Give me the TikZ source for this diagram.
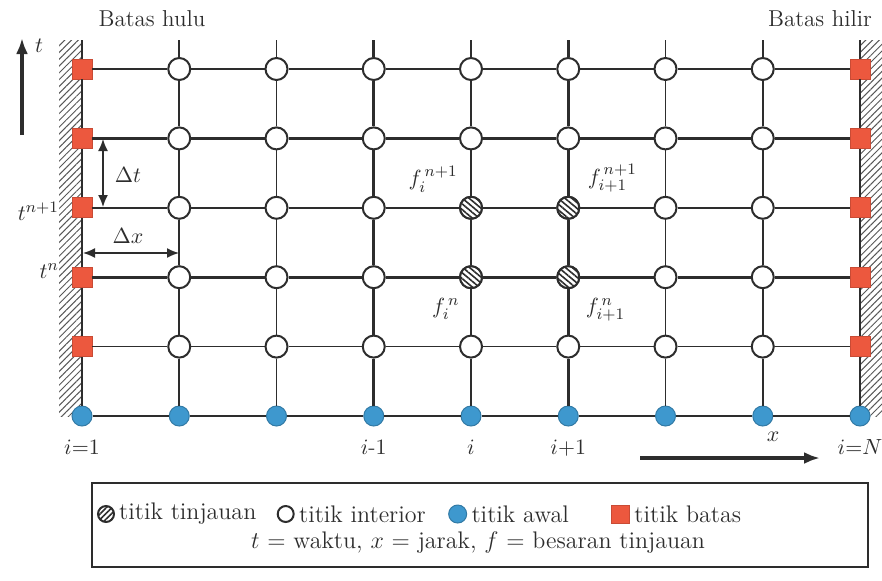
\documentclass[tikz,border=0pt]{standalone}
\usepackage{amsmath}
\usepackage{xcolor}
\usetikzlibrary{positioning, patterns.meta, arrows.meta}

\definecolor{awalblue}{RGB}{62,152,206}
\definecolor{batasred}{RGB}{236,88,62}
\definecolor{tinta}{RGB}{45,45,45}

\tikzset{
  interior/.style={circle, draw=tinta, line width=1pt, fill=white, minimum size=11pt, inner sep=0pt},
  tinjau/.style={interior, preaction={fill=white},
    pattern={Lines[angle=-40,distance=2.2pt,line width=0.8pt]}, pattern color=tinta},
  awal/.style={circle, fill=awalblue, draw=awalblue!80!black, line width=0.5pt, minimum size=10pt, inner sep=0pt},
  batas/.style={rectangle, fill=batasred, draw=batasred!85!black, line width=0.4pt, minimum size=10pt, inner sep=0pt},
  tipis/.style={draw=tinta, line width=0.8pt},
  tebal/.style={draw=tinta, line width=1.3pt},
  dinding/.style={pattern={Lines[angle=45,distance=2.4pt,line width=0.5pt]}, pattern color=tinta!80},
  judul/.style={text=tinta, font=\fontsize{11.5}{13}\selectfont},
  lbl/.style={text=tinta, font=\fontsize{11}{13}\selectfont},
  legtext/.style={text=tinta, font=\fontsize{12}{14}\selectfont, inner sep=1pt},
  dim/.style={tinta, line width=0.8pt, {Latex[length=6pt,width=5pt]}-{Latex[length=6pt,width=5pt]}},
  sumbu/.style={tinta, line width=1.6pt, -{Latex[length=8pt,width=6pt]}},
}

\begin{document}
\begin{tikzpicture}[x=0.5pt, y=-0.5pt]
    \useasboundingbox (0,0) rectangle (882,580);

    % Dinding batas hulu dan hilir
    \fill[dinding] (59,40) rectangle (82,416);
    \fill[dinding] (860,40) rectangle (882,416);

    % Titik grid
    \foreach \c in {0,...,8} {
        \node[awal] (n-\c-5) at ({82+97.25*\c},416) {};
        \coordinate (top-\c) at ({82+97.25*\c},40);
    }
    \foreach \r in {0,...,4} {
        \node[batas] (n-0-\r) at (82,{69+69.4*\r}) {};
        \node[batas] (n-8-\r) at (860,{69+69.4*\r}) {};
        \foreach \c in {1,...,7}
            \node[interior] (n-\c-\r) at ({82+97.25*\c},{69+69.4*\r}) {};
    }
    % Titik tinjauan
    \node[tinjau] (n-4-2) at (n-4-2) {};
    \node[tinjau] (n-5-2) at (n-5-2) {};
    \node[tinjau] (n-4-3) at (n-4-3) {};
    \node[tinjau] (n-5-3) at (n-5-3) {};

    % Garis horizontal
    \foreach \r/\gaya in {0/tipis, 1/tebal, 2/tebal, 3/tebal, 4/tipis, 5/tebal} {
        \foreach \c in {0,...,7} {
            \pgfmathtruncatemacro{\d}{\c+1}
            \draw[\gaya] (n-\c-\r) -- (n-\d-\r);
        }
    }
    % Garis vertikal
    \foreach \c/\gaya in {0/tebal, 1/tipis, 2/tipis, 3/tebal, 4/tebal, 5/tebal, 6/tipis, 7/tipis, 8/tebal} {
        \draw[\gaya] (top-\c) -- (n-\c-0) -- (n-\c-1) -- (n-\c-2) -- (n-\c-3) -- (n-\c-4) -- (n-\c-5);
    }

    % Judul batas
    \node[judul] (hulu) at (152,19) {Batas hulu};
    \node[judul] (hilir) at (820,19) {Batas hilir};

    % Sumbu waktu
    \coordinate (t-bawah) at (22,135);
    \coordinate (t-atas) at (22,38);
    \draw[sumbu] (t-bawah) -- (t-atas);
    \node[lbl] (t-lbl) at (39,46) {$t$};
    \node[lbl, left] (tn1) at (66,211) {$t^{n+1}$};
    \node[lbl, left] (tn) at (66,271) {$t^{n}$};

    % Delta t dan Delta x
    \coordinate (dt-a) at (103,139);
    \coordinate (dt-b) at (103,207);
    \draw[dim] (dt-a) -- (dt-b);
    \node[lbl] (dt-lbl) at (128,175) {$\Delta t$};
    \coordinate (dx-a) at (83,253);
    \coordinate (dx-b) at (179,253);
    \draw[dim] (dx-a) -- (dx-b);
    \node[lbl] (dx-lbl) at (128,236) {$\Delta x$};

    % Label besaran tinjauan
    \node[lbl, above left=0pt and -1pt of n-4-2] (f1) {$f_i^{\,n+1}$};
    \node[lbl, above right=0pt and 2pt of n-5-2] (f2) {$f_{i+1}^{\,n+1}$};
    \node[lbl, below left=1pt and -2pt of n-4-3] (f3) {$f_i^{\,n\vphantom{1}}$};
    \node[lbl, below right=1pt and 1pt of n-5-3] (f4) {$f_{i+1}^{\,n\vphantom{1}}$};

    % Label indeks i
    \node[lbl, below=3pt of n-0-5] (i1) {$i{=}1$};
    \node[lbl, below=3pt of n-3-5] (im) {$i$-$1$};
    \node[lbl, below=3pt of n-4-5] (ii) {$i$};
    \node[lbl, below=3pt of n-5-5] (ip) {$i{+}1$};
    \node[lbl, below=3pt of n-8-5] (iN) {$i{=}N$};

    % Sumbu jarak
    \node[lbl] (x-lbl) at (773,437) {$x$};
    \coordinate (x-kiri) at (640,458);
    \coordinate (x-kanan) at (820,458);
    \draw[sumbu] (x-kiri) -- (x-kanan);

    % Keterangan
    \node[draw=tinta, line width=1.2pt, minimum width=388pt, minimum height=42pt] (legenda) at (480,525) {};
    \node[tinjau, minimum size=8pt, pattern={Lines[angle=45,distance=2pt,line width=0.8pt]}] (lg1) at (106,514) {};
    \node[legtext, right=1pt of lg1] (lt1) {titik tinjauan};
    \node[interior, minimum size=8pt, right=9pt of lt1] (lg2) {};
    \node[legtext, right=1pt of lg2] (lt2) {titik interior};
    \node[awal, minimum size=9pt, right=10pt of lt2] (lg3) {};
    \node[legtext, right=1pt of lg3] (lt3) {titik awal};
    \node[batas, minimum size=9pt, right=20pt of lt3] (lg4) {};
    \node[legtext, right=1pt of lg4] (lt4) {titik batas};
    \node[legtext] (ket) at (478,543) {$t$ = waktu, $x$ = jarak, $f$ = besaran tinjauan};
\end{tikzpicture}
\end{document}
